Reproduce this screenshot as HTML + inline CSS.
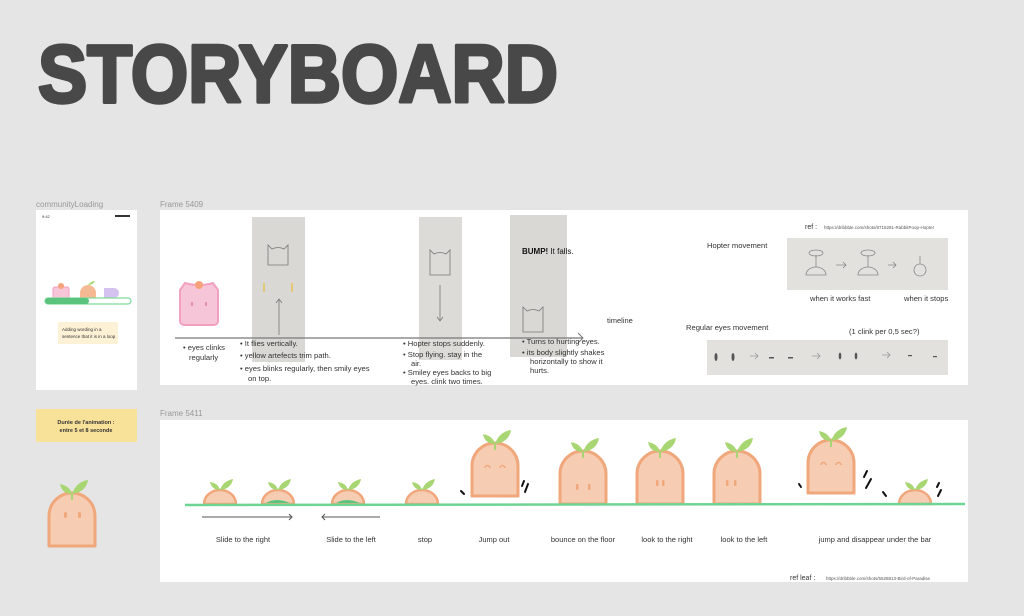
<!DOCTYPE html>
<html><head><meta charset="utf-8"><style>
html,body{margin:0;padding:0;background:#e5e5e5;}
svg{display:block;font-family:"Liberation Sans",sans-serif;}
</style></head><body>
<svg width="1024" height="616" viewBox="0 0 1024 616" xmlns="http://www.w3.org/2000/svg">
<defs>
  <g id="carrot">
    <path d="M0,0 V-30 A23,23 0 0 1 46,-30 V0 Z" fill="#f6cdb3" stroke="#f0a77b" stroke-width="3" stroke-linejoin="round"/>
    <path d="M23,-52 q-2,-8 -12,-10 q2,10 12,10 z" fill="#a8d672"/>
    <path d="M23,-52 q4,-12 16,-14 q-2,12 -16,14 z" fill="#a8d672"/>
    <line x1="23" y1="-52" x2="23" y2="-46" stroke="#a8d672" stroke-width="2"/>
  </g>
  <g id="semi">
    <path d="M0,0 A16,14 0 0 1 32,0 Z" fill="#f6cdb3" stroke="#f0a77b" stroke-width="2.5"/>
    <path d="M16,-14 q-2,-7 -10,-8 q2,8 10,8 z" fill="#a8d672"/>
    <path d="M16,-14 q3,-9 13,-11 q-2,10 -13,11 z" fill="#a8d672"/>
  </g>
</defs>
<rect width="1024" height="616" fill="#e5e5e5"/>
<text x="38" y="102" font-size="82" font-weight="bold" fill="#484848" stroke="#484848" stroke-width="3.5" stroke-linejoin="round" textLength="520" lengthAdjust="spacingAndGlyphs">STORYBOARD</text>

<!-- phone -->
<text x="36" y="207" font-size="8" fill="#999">communityLoading</text>
<rect x="36" y="210" width="101" height="180" fill="#fff"/>
<text x="42" y="218" font-size="4" fill="#333">9:42</text>
<rect x="115" y="215" width="15" height="2" fill="#333"/>
<rect x="53" y="287" width="16" height="14" rx="2" fill="#f7c5d8" stroke="#f2a0bf"/>
<circle cx="61" cy="286" r="3" fill="#f6a27a"/>
<path d="M80,301 v-8 a8,8 0 0 1 16,0 v8z" fill="#f5b994"/>
<path d="M88,285 q3,-4 7,-4 q-2,4 -7,4z" fill="#a8d672"/>
<path d="M104,301 v-13 h10 a5,5 0 0 1 0,10 h-2 v3z" fill="#d6c2f0"/>
<rect x="45" y="298" width="86" height="6" rx="3" fill="#fff" stroke="#7fdb9c" stroke-width="1.2"/>
<rect x="45" y="298" width="44" height="6" rx="3" fill="#5ac47e"/>
<rect x="58" y="322" width="60" height="22" fill="#fdf1d6"/>
<text x="62" y="331" font-size="4.5" fill="#333">Adding wording in a</text>
<text x="62" y="338" font-size="4.5" fill="#333">sentence that it is in a loop</text>

<!-- yellow note -->
<rect x="36" y="409" width="101" height="33" fill="#f8e29a"/>
<text x="86" y="424" font-size="5.5" font-weight="bold" fill="#333" text-anchor="middle">Durée de l'animation :</text>
<text x="86" y="432" font-size="5.5" font-weight="bold" fill="#333" text-anchor="middle">entre 5 et 8 seconde</text>
<use href="#carrot" x="49" y="546"/>
<rect x="64" y="512" width="3" height="6" rx="1.5" fill="#f0a77b"/><rect x="78" y="512" width="3" height="6" rx="1.5" fill="#f0a77b"/>

<!-- Frame 5409 -->
<text x="160" y="207" font-size="8" fill="#999">Frame 5409</text>
<rect x="160" y="210" width="808" height="175" fill="#fff"/>
<rect x="252" y="217" width="53" height="145" fill="#d9d8d4"/>
<rect x="419" y="217" width="43" height="143" fill="#dcdbd7"/>
<rect x="510" y="215" width="57" height="142" fill="#d9d8d4"/>
<g fill="none" stroke="#777" stroke-width="0.8">
  <path d="M268,265 v-20 l4,4 q6,-3 12,0 l4,-4 v20 z"/><line x1="279" y1="300" x2="279" y2="335"/><path d="M276,303 l3,-4 l3,4"/>
  <path d="M430,275 v-25 l4,4 q6,-3 12,0 l4,-4 v25 z"/><line x1="440" y1="285" x2="440" y2="320"/><path d="M437,317 l3,4 l3,-4"/>
  <path d="M523,332 v-25 l4,4 q6,-3 12,0 l4,-4 v25 z"/>
</g>
<line x1="264" y1="283" x2="264" y2="292" stroke="#e7c35a" stroke-width="1.5"/><line x1="292" y1="283" x2="292" y2="292" stroke="#e7c35a" stroke-width="1.5"/>
<text x="522" y="254" font-size="8" fill="#111"><tspan font-weight="bold">BUMP!</tspan> It falls.</text>
<!-- pink cat -->
<path d="M180,290 l5,-7 q14,4 28,0 l5,7 v31 a4,4 0 0 1 -4,4 h-30 a4,4 0 0 1 -4,-4 z" fill="#f7c5d8" stroke="#f2a0bf" stroke-width="2"/>
<circle cx="199" cy="285" r="4" fill="#f6a27a"/>
<rect x="191" y="302" width="2" height="4" fill="#e88fb0"/><rect x="205" y="302" width="2" height="4" fill="#e88fb0"/>
<!-- timeline -->
<line x1="175" y1="338" x2="582" y2="338" stroke="#777" stroke-width="1.2"/>
<path d="M578,333 l5,5 l-5,5" fill="none" stroke="#777"/>
<text x="607" y="323" font-size="7.5" fill="#333">timeline</text>
<g font-size="7.6" fill="#333">
 <text x="183" y="350">•  eyes clinks</text><text x="189" y="360">regularly</text>
 <text x="240" y="346">•  It flies vertically.</text>
 <text x="240" y="358">•  yellow artefects trim path.</text>
 <text x="240" y="371">•  eyes blinks regularly, then smily eyes</text><text x="248" y="381">on top.</text>
 <text x="403" y="346">•  Hopter stops suddenly.</text>
 <text x="403" y="357">•  Stop flying. stay in the</text><text x="411" y="366">air.</text>
 <text x="403" y="375">•  Smiley eyes backs to big</text><text x="411" y="384">eyes. clink two times.</text>
 <text x="522" y="344">•  Turns to hurting eyes.</text>
 <text x="522" y="355">•  its body slightly shakes</text><text x="530" y="364">horizontally to show it</text><text x="530" y="373">hurts.</text>
 <text x="707" y="248">Hopter movement</text>
 <text x="810" y="301">when it  works fast</text>
 <text x="904" y="301">when it stops</text>
 <text x="686" y="330">Regular eyes movement</text>
 <text x="849" y="334">(1 clink per 0,5 sec?)</text>
</g>
<text x="805" y="229" font-size="7" fill="#333">ref :</text>
<text x="824" y="229" font-size="4.5" fill="#555">https://dribbble.com/shots/8716281-RabbitPoop-Hopter</text>
<rect x="787" y="238" width="161" height="52" fill="#e2e1de"/>
<g fill="none" stroke="#888" stroke-width="0.8">
 <path d="M806,275 a10,8 0 0 1 20,0 z"/><line x1="816" y1="267" x2="816" y2="255"/><ellipse cx="816" cy="253" rx="7" ry="3"/>
 <path d="M858,275 a10,8 0 0 1 20,0 z"/><line x1="868" y1="267" x2="868" y2="255"/><ellipse cx="868" cy="253" rx="7" ry="3"/>
 <circle cx="920" cy="270" r="6"/><line x1="920" y1="264" x2="920" y2="256"/>
 <path d="M836,265 h10 M843,262 l3,3 l-3,3 M888,265 h8 M893,262 l3,3 l-3,3"/>
</g>
<rect x="707" y="340" width="241" height="35" fill="#e2e1de"/>
<g fill="#555"><ellipse cx="716" cy="357" rx="1.5" ry="4"/><ellipse cx="733" cy="357" rx="1.5" ry="4"/><rect x="769" y="357" width="5" height="1.5"/><rect x="788" y="357" width="5" height="1.5"/><ellipse cx="840" cy="356" rx="1.3" ry="3.5"/><ellipse cx="856" cy="356" rx="1.3" ry="3.5"/><rect x="908" y="355" width="4" height="1.2"/><rect x="933" y="356" width="4" height="1.2"/></g>
<g fill="none" stroke="#999" stroke-width="0.8"><path d="M750,356 h8 M755,353 l3,3 l-3,3 M812,356 h8 M817,353 l3,3 l-3,3 M882,355 h8 M887,352 l3,3 l-3,3"/></g>

<!-- Frame 5411 -->
<text x="160" y="416" font-size="8" fill="#999">Frame 5411</text>
<rect x="160" y="420" width="808" height="162" fill="#fff"/>
<use href="#semi" x="204" y="504"/>
<use href="#semi" x="262" y="504"/><path d="M266,503 q10,-6 24,0z" fill="#5ac47e"/>
<use href="#semi" x="332" y="504"/><path d="M336,503 q10,-6 24,0z" fill="#5ac47e"/>
<use href="#semi" x="406" y="504"/>
<use href="#carrot" x="472" y="496"/>
<use href="#carrot" x="560" y="504"/>
<use href="#carrot" x="637" y="504"/>
<use href="#carrot" x="714" y="504"/>
<use href="#carrot" x="808" y="493"/>
<use href="#semi" x="899" y="504"/>
<g fill="none" stroke="#f0a77b" stroke-width="1.5">
 <path d="M485,468 a2.5,2.5 0 0 1 5,0 M500,468 a2.5,2.5 0 0 1 5,0 M821,465 a2.5,2.5 0 0 1 5,0 M836,465 a2.5,2.5 0 0 1 5,0"/>
</g>
<g fill="#f0a77b"><rect x="576" y="484" width="2.5" height="6" rx="1"/><rect x="588" y="484" width="2.5" height="6" rx="1"/><rect x="656" y="480" width="2.5" height="6" rx="1"/><rect x="662" y="480" width="2.5" height="6" rx="1"/><rect x="726" y="480" width="2.5" height="6" rx="1"/><rect x="734" y="480" width="2.5" height="6" rx="1"/></g>
<g stroke="#111" stroke-width="2" stroke-linecap="round">
 <line x1="461" y1="491" x2="464" y2="494"/><line x1="522" y1="486" x2="524" y2="481"/><line x1="525" y1="492" x2="528" y2="484"/>
 <line x1="799" y1="484" x2="801" y2="487"/><line x1="864" y1="477" x2="867" y2="471"/><line x1="866" y1="488" x2="871" y2="479"/>
 <line x1="883" y1="492" x2="886" y2="496"/><line x1="937" y1="487" x2="939" y2="483"/><line x1="938" y1="496" x2="941" y2="490"/>
</g>
<line x1="185" y1="505" x2="965" y2="504" stroke="#6fd493" stroke-width="2.5"/>
<line x1="202" y1="517" x2="292" y2="517" stroke="#555" stroke-width="1"/><path d="M289,514 l3,3 l-3,3" fill="none" stroke="#555"/>
<line x1="322" y1="517" x2="380" y2="517" stroke="#777" stroke-width="1.3"/><path d="M325,514 l-3,3 l3,3" fill="none" stroke="#555"/>
<g font-size="7.5" fill="#333" text-anchor="middle">
 <text x="243" y="542">Slide to the right</text><text x="351" y="542">Slide to the left</text><text x="425" y="542">stop</text><text x="494" y="542">Jump out</text><text x="583" y="542">bounce on the floor</text><text x="667" y="542">look to the right</text><text x="744" y="542">look to the left</text><text x="875" y="542">jump and disappear under the bar</text>
</g>
<text x="790" y="580" font-size="7" fill="#333">ref leaf :</text>
<text x="826" y="580" font-size="4.5" fill="#555">https://dribbble.com/shots/5528813-Bird-of-Paradise</text>
</svg>
</body></html>
